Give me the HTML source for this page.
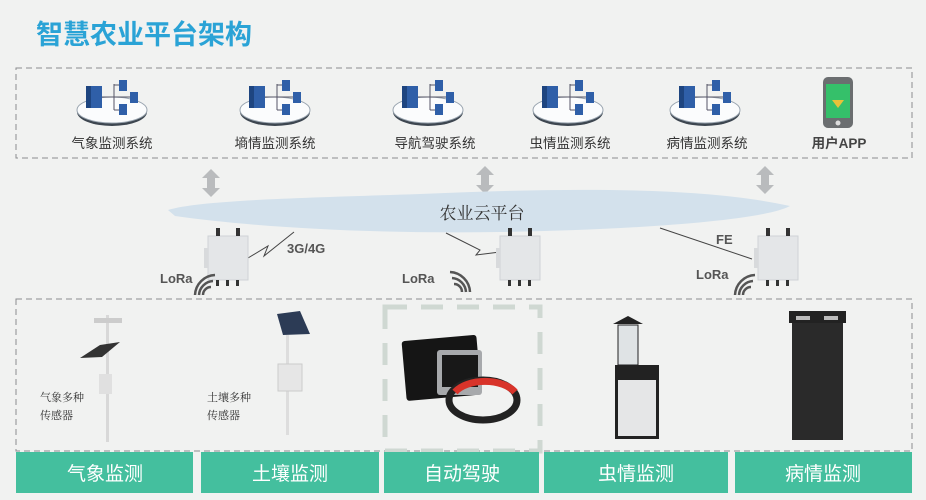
<!DOCTYPE html>
<html><head><meta charset="utf-8"><style>
html,body{margin:0;padding:0;background:#f1f2f1;}
svg{display:block;}
text{font-family:"Liberation Sans","Noto Sans CJK SC",sans-serif;}
.s{font-family:"Liberation Serif","Noto Serif CJK SC",serif;}
</style></head><body>
<svg width="926" height="500" viewBox="0 0 926 500" xmlns="http://www.w3.org/2000/svg">
<defs>
<g id="srv">
<ellipse cx="0" cy="2" rx="35" ry="14" fill="#3d4650"/>
<ellipse cx="0" cy="0" rx="35" ry="13" fill="#fbfcfd" stroke="#9aa5b0" stroke-width="1"/>
<path d="M-10 -13 H2 M2 -26 V0 M2 -25 H8 M2 -13 H19 M2 0 H8" stroke="#556" stroke-width="1" fill="none"/>
<rect x="-26" y="-24" width="16" height="22" fill="#2f5fa8"/><rect x="-26" y="-24" width="5" height="22" fill="#1e4580"/>
<rect x="7" y="-30" width="8" height="11" fill="#2f5fa8"/>
<rect x="18" y="-18" width="8" height="11" fill="#2f5fa8"/>
<rect x="7" y="-6" width="8" height="11" fill="#2f5fa8"/>
</g>
<g id="gw">
<rect x="-20" y="-22" width="40" height="44" fill="#e4e6e8" stroke="#cfd3d6"/>
<rect x="-24" y="-10" width="4" height="20" fill="#d8dadc"/>
<rect x="-12" y="-30" width="4" height="8" fill="#333"/><rect x="8" y="-30" width="4" height="8" fill="#333"/>
<rect x="-12" y="22" width="3" height="6" fill="#333"/><rect x="-2" y="22" width="3" height="6" fill="#333"/><rect x="8" y="22" width="3" height="6" fill="#333"/>
</g>
<g id="arr"><path d="M0 -14 L9 -5 H4 V5 H9 L0 14 L-9 5 H-4 V-5 H-9 Z" fill="#b9bbbd"/></g>
<g id="wifi" fill="none" stroke="#555" stroke-width="2.5">
<path d="M-6 -6 A8 8 0 0 1 2 2"/><path d="M-10 -12 A15 15 0 0 1 4 2" transform="translate(2,0)"/><path d="M-12 -18 A21 21 0 0 1 8 2" transform="translate(2,0)"/>
</g>
</defs>

<text x="36" y="44" font-size="27" fill="#2aa3d6" font-weight="bold">智慧农业平台架构</text>

<rect x="16" y="68" width="896" height="90" fill="none" stroke="#8a8c8e" stroke-dasharray="6,4"/>
<use href="#srv" x="112" y="110"/>
<use href="#srv" x="275" y="110"/>
<use href="#srv" x="428" y="110"/>
<use href="#srv" x="568" y="110"/>
<use href="#srv" x="705" y="110"/>
<rect x="823" y="77" width="30" height="51" rx="5" fill="#6b6e70"/>
<rect x="826" y="84" width="24" height="34" fill="#35c06a"/>
<circle cx="838" cy="123" r="2.5" fill="#ddd"/>
<path d="M832 100 L844 100 L838 108 Z" fill="#e8c13a"/>
<g class="s" font-size="13.5" fill="#333" text-anchor="middle">
<text x="112" y="148">气象监测系统</text>
<text x="275" y="148">墒情监测系统</text>
<text x="435" y="148">导航驾驶系统</text>
<text x="570" y="148">虫情监测系统</text>
<text x="707" y="148">病情监测系统</text>
</g>
<text x="839" y="148" font-size="13.5" fill="#444" font-weight="bold" text-anchor="middle">用户APP</text>

<use href="#arr" x="211" y="183"/>
<use href="#arr" x="485" y="180"/>
<use href="#arr" x="765" y="180"/>

<path d="M168 210 C200 200 300 198 420 194 C560 188 700 186 790 206 C760 222 620 230 500 232 C380 234 260 228 175 216 Z" fill="#d3e1ec"/>
<text x="482" y="219" class="s" font-size="17" fill="#333" text-anchor="middle">农业云平台</text>

<path d="M248 258 L268 246 L264 256 L294 232" stroke="#444" fill="none"/>
<text x="287" y="253" font-size="13" fill="#555" font-weight="bold">3G/4G</text>
<path d="M446 233 L480 250 L476 255 L500 252" stroke="#444" fill="none"/>
<path d="M660 228 L752 259" stroke="#444" fill="none"/>
<text x="716" y="244" font-size="13" fill="#555" font-weight="bold">FE</text>

<use href="#gw" x="228" y="258"/>
<use href="#gw" x="520" y="258"/>
<use href="#gw" x="778" y="258"/>

<text x="160" y="283" font-size="13" fill="#555" font-weight="bold">LoRa</text>
<text x="402" y="283" font-size="13" fill="#555" font-weight="bold">LoRa</text>
<text x="696" y="279" font-size="13" fill="#555" font-weight="bold">LoRa</text>
<g transform="translate(205,293) scale(-1,1)"><use href="#wifi"/></g>
<use href="#wifi" x="460" y="290"/>
<g transform="translate(745,293) scale(-1,1)"><use href="#wifi"/></g>

<rect x="16" y="299" width="896" height="152" fill="none" stroke="#8a8c8e" stroke-dasharray="6,4"/>
<rect x="385" y="307" width="155" height="144" fill="none" stroke="#cfd8d2" stroke-width="5" stroke-dasharray="22,14"/>

<!-- weather station -->
<rect x="106" y="315" width="3" height="127" fill="#d8d8d8"/>
<path d="M80 358 L100 345 L120 342 L102 357 Z" fill="#333"/>
<rect x="99" y="374" width="13" height="20" fill="#e0e0e0"/>
<rect x="94" y="318" width="28" height="5" fill="#ccc"/>
<text x="40" y="401" class="s" font-size="11" fill="#333">气象多种</text>
<text x="40" y="419" class="s" font-size="11" fill="#333">传感器</text>
<!-- soil -->
<path d="M277 314 L300 311 L310 334 L283 335 Z" fill="#2c3b55"/>
<rect x="286" y="335" width="3" height="100" fill="#ddd"/>
<rect x="278" y="364" width="24" height="27" fill="#e6e6e6" stroke="#ccc"/>
<text x="207" y="401" class="s" font-size="11" fill="#333">土壤多种</text>
<text x="207" y="419" class="s" font-size="11" fill="#333">传感器</text>
<!-- tablet & wheel -->
<rect x="404" y="338" width="75" height="60" rx="3" fill="#151515" transform="rotate(-5 440 368)"/>
<rect x="437" y="350" width="45" height="45" rx="3" fill="#a7a9ac"/>
<rect x="442" y="355" width="36" height="32" fill="#181818"/>
<ellipse cx="483" cy="400" rx="34" ry="20" fill="none" stroke="#222" stroke-width="7"/>
<path d="M455 392 A34 20 0 0 1 515 392" fill="none" stroke="#d8332a" stroke-width="7"/>
<!-- insect -->
<path d="M613 324 L628 316 L643 324 Z" fill="#222"/>
<rect x="618" y="325" width="20" height="40" fill="#dfe3e5" stroke="#222"/>
<rect x="615" y="365" width="44" height="74" fill="#222"/>
<rect x="618" y="380" width="38" height="56" fill="#e5e6e7"/>
<!-- disease -->
<rect x="789" y="311" width="57" height="12" fill="#222"/>
<rect x="792" y="323" width="51" height="117" fill="#2a2a2a"/>
<rect x="796" y="316" width="14" height="4" fill="#bbb"/><rect x="824" y="316" width="14" height="4" fill="#bbb"/>

<g fill="#44bf9e">
<rect x="16" y="452" width="177" height="41"/>
<rect x="201" y="452" width="178" height="41"/>
<rect x="384" y="452" width="155" height="41"/>
<rect x="544" y="452" width="184" height="41"/>
<rect x="735" y="452" width="177" height="41"/>
</g>
<g class="s" font-size="19" fill="#fff" text-anchor="middle">
<text x="105" y="480">气象监测</text>
<text x="290" y="480">土壤监测</text>
<text x="462" y="480">自动驾驶</text>
<text x="636" y="480">虫情监测</text>
<text x="823" y="480">病情监测</text>
</g>
</svg>
</body></html>
